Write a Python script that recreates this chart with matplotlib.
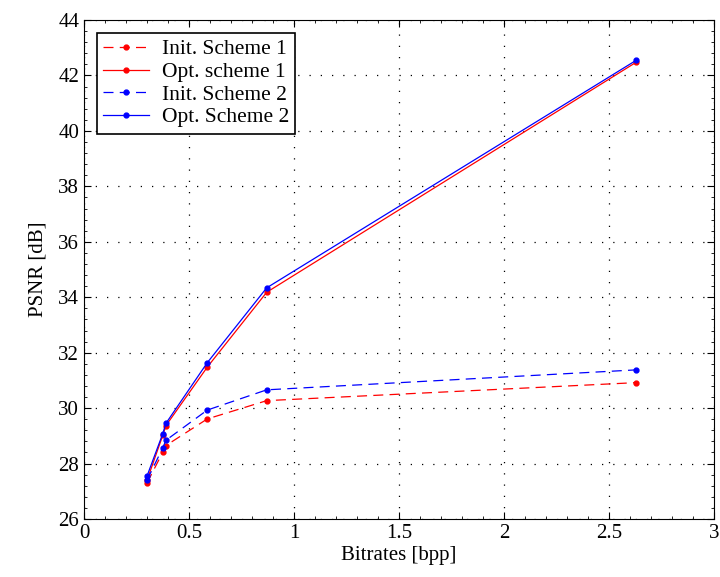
import matplotlib
matplotlib.use("Agg")
import matplotlib.pyplot as plt
from matplotlib.ticker import MultipleLocator

plt.rcParams['font.family'] = ['Liberation Serif', 'DejaVu Serif']

# bitrates [bpp]
rate = [0.30, 0.375, 0.39, 0.587, 0.87, 2.63]

# PSNR [dB]
init1 = [27.30, 28.41, 28.65, 29.61, 30.27, 30.92]
opt1 = [27.40, 29.02, 29.37, 31.48, 34.18, 42.48]
init2 = [27.40, 28.57, 28.84, 29.93, 30.66, 31.38]
opt2 = [27.55, 29.08, 29.45, 31.64, 34.34, 42.55]

fig = plt.figure(figsize=(7.2, 5.77), dpi=100)
ax = fig.add_axes([0.1167, 0.1005, 0.875, 0.8648])

ax.plot(rate, init1, '--', color='red', marker='.', markersize=7, lw=0.9,
        dashes=(8, 5), label='Init. Scheme 1')
ax.plot(rate, opt1, '-', color='red', marker='.', markersize=7, lw=0.9,
        label='Opt. scheme 1')
ax.plot(rate, init2, '--', color='blue', marker='.', markersize=7, lw=0.9,
        dashes=(8, 5), label='Init. Scheme 2')
ax.plot(rate, opt2, '-', color='blue', marker='.', markersize=7, lw=0.9,
        label='Opt. Scheme 2')

ax.set_xlim(0, 3)
ax.set_ylim(26, 44)
ax.set_xticks([0, 0.5, 1, 1.5, 2, 2.5, 3])
ax.set_xticklabels(['0', '0.5', '1', '1.5', '2', '2.5', '3'])
ax.set_yticks(range(26, 45, 2))
ax.xaxis.set_minor_locator(MultipleLocator(0.1))
ax.yaxis.set_minor_locator(MultipleLocator(0.4))
ax.tick_params(which='both', direction='in', top=True, right=True, labelsize=15)
ax.tick_params(which='major', length=5)
ax.tick_params(which='minor', length=2.5)
ax.grid(True, which='major', linestyle=(0, (1, 8)), color='black', lw=0.9)

ax.set_xlabel('Bitrates [bpp]', fontsize=15, labelpad=2)
ax.set_ylabel('PSNR [dB]', fontsize=15, labelpad=8)

leg = ax.legend(loc='upper left', fontsize=15.5, fancybox=False, framealpha=1,
                edgecolor='black', handlelength=2.1, handletextpad=0.6,
                borderpad=0.3, labelspacing=0.12, borderaxespad=0.6)
leg.get_frame().set_linewidth(1.2)

fig.savefig('out.png', dpi=100)
